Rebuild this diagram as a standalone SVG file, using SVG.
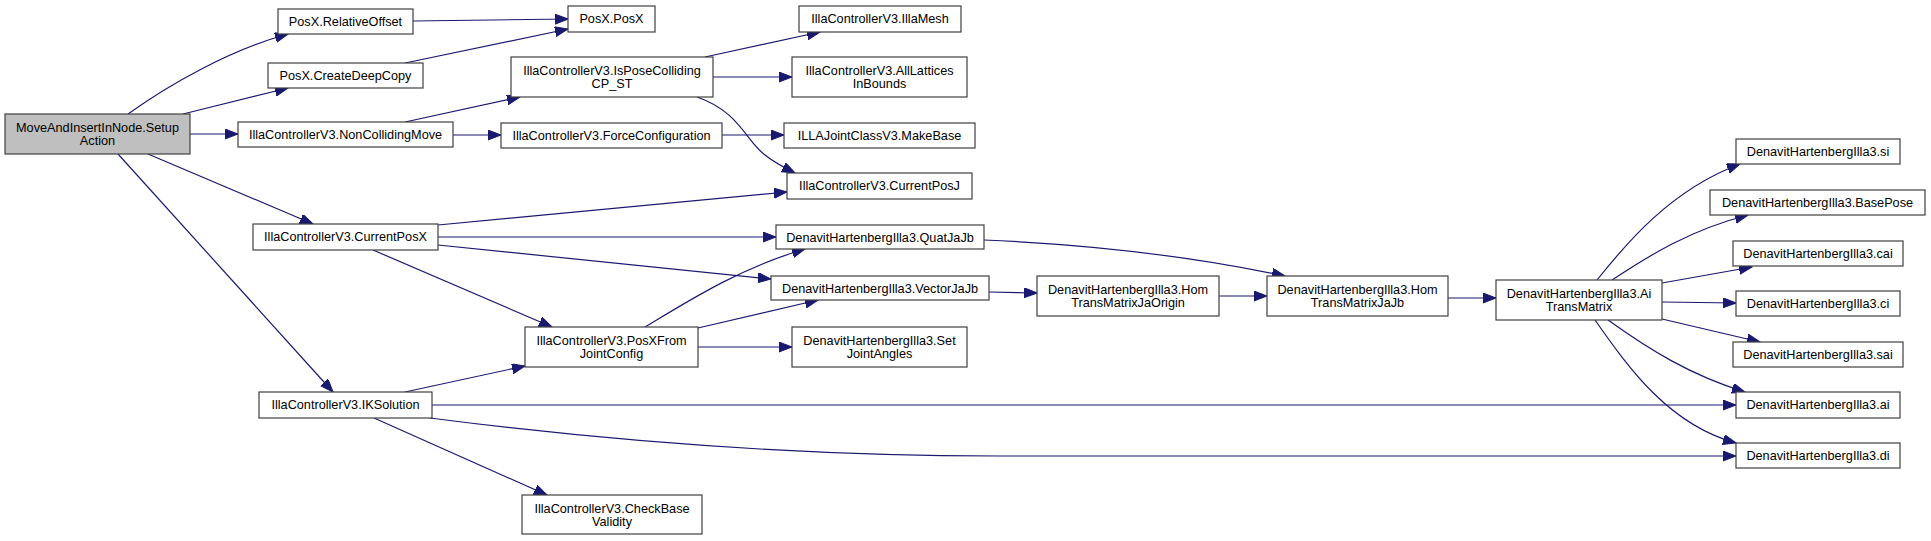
<svg xmlns="http://www.w3.org/2000/svg" width="1931" height="541" viewBox="0 0 1931 541">
<style>
.n rect{fill:#ffffff;stroke:#404040;stroke-width:1.2}
.n.root rect{fill:#bfbfbf}
text{font-family:"Liberation Sans",Arial,sans-serif;font-size:12.7px;fill:#000;text-anchor:middle}
.e path{fill:none;stroke:#191970;stroke-width:1.2;marker-end:url(#ah)}
</style>
<defs>
<marker id="ah" markerUnits="userSpaceOnUse" markerWidth="14" markerHeight="11" refX="13" refY="5" orient="auto">
<path d="M0,0 L13,5 L0,10 z" fill="#191970" stroke="#191970" stroke-width="1"/>
</marker>
</defs>
<rect width="1931" height="541" fill="#ffffff"/>
<g id="edges" class="e">
<path d="M128,114 C170,84 230,50 288,34"/>
<path d="M183,114 L288,88"/>
<path d="M190,134 L238,134"/>
<path d="M148,154 L313,224"/>
<path d="M118,154 L333,392"/>
<path d="M413,21 L568,19"/>
<path d="M405,63 L568,29"/>
<path d="M405,122 L520,97"/>
<path d="M453,135 L501,135"/>
<path d="M705,57 L820,32"/>
<path d="M713,77 L792,77"/>
<path d="M697,97 C740,112 745,140 765,155 C775,163 785,168 795,173"/>
<path d="M722,135 L784,135"/>
<path d="M438,225 L787,192"/>
<path d="M438,237 L776,237"/>
<path d="M438,245 L771,279"/>
<path d="M373,250 L552,327"/>
<path d="M645,327 C690,300 740,268 805,249"/>
<path d="M698,328 L818,300"/>
<path d="M698,347 L792,347"/>
<path d="M405,392 L525,366"/>
<path d="M432,405 L1736,405"/>
<path d="M430,418 C600,440 800,456 1000,456 L1736,456"/>
<path d="M374,418 L547,495"/>
<path d="M984,240 C1100,245 1200,258 1285,276"/>
<path d="M989,292 L1037,293"/>
<path d="M1219,296 L1267,296"/>
<path d="M1448,298 L1496,298"/>
<path d="M1597,280 C1625,245 1670,190 1740,164"/>
<path d="M1612,280 C1650,255 1690,230 1748,215"/>
<path d="M1662,283 L1752,267"/>
<path d="M1662,302 L1736,303"/>
<path d="M1662,319 L1760,342"/>
<path d="M1608,320 C1650,350 1690,375 1745,392"/>
<path d="M1595,320 C1630,370 1670,425 1736,443"/>
</g>
<g id="n_setup" class="n root"><rect x="5" y="114" width="185" height="40"/><text x="97.5" y="132">MoveAndInsertInNode.Setup</text><text x="97.5" y="145">Action</text></g>
<g id="n_reloff" class="n"><rect x="278" y="9" width="135" height="25"/><text x="345.5" y="26">PosX.RelativeOffset</text></g>
<g id="n_deepcopy" class="n"><rect x="268" y="63" width="155" height="25"/><text x="345.5" y="80">PosX.CreateDeepCopy</text></g>
<g id="n_noncoll" class="n"><rect x="238" y="122" width="215" height="25"/><text x="345.5" y="139">IllaControllerV3.NonCollidingMove</text></g>
<g id="n_curposx" class="n"><rect x="253" y="224" width="185" height="26"/><text x="345.5" y="241">IllaControllerV3.CurrentPosX</text></g>
<g id="n_iksol" class="n"><rect x="259" y="392" width="173" height="26"/><text x="345.5" y="409">IllaControllerV3.IKSolution</text></g>
<g id="n_posx" class="n"><rect x="568" y="6" width="87" height="26"/><text x="611.5" y="23">PosX.PosX</text></g>
<g id="n_ispose" class="n"><rect x="511" y="57" width="202" height="40"/><text x="612" y="75">IllaControllerV3.IsPoseColliding</text><text x="612" y="88">CP_ST</text></g>
<g id="n_force" class="n"><rect x="501" y="123" width="221" height="25"/><text x="611.5" y="140">IllaControllerV3.ForceConfiguration</text></g>
<g id="n_posxfrom" class="n"><rect x="525" y="327" width="173" height="40"/><text x="611.5" y="345">IllaControllerV3.PosXFrom</text><text x="611.5" y="358">JointConfig</text></g>
<g id="n_checkbase" class="n"><rect x="522" y="495" width="180" height="39"/><text x="612" y="513">IllaControllerV3.CheckBase</text><text x="612" y="526">Validity</text></g>
<g id="n_illamesh" class="n"><rect x="799" y="6" width="162" height="26"/><text x="880" y="23">IllaControllerV3.IllaMesh</text></g>
<g id="n_alllat" class="n"><rect x="792" y="57" width="175" height="40"/><text x="879.5" y="75">IllaControllerV3.AllLattices</text><text x="879.5" y="88">InBounds</text></g>
<g id="n_makebase" class="n"><rect x="784" y="123" width="191" height="25"/><text x="879.5" y="140">ILLAJointClassV3.MakeBase</text></g>
<g id="n_curposj" class="n"><rect x="787" y="173" width="185" height="26"/><text x="879.5" y="190">IllaControllerV3.CurrentPosJ</text></g>
<g id="n_quat" class="n"><rect x="776" y="225" width="208" height="24"/><text x="880" y="241.5">DenavitHartenbergIlla3.QuatJaJb</text></g>
<g id="n_vector" class="n"><rect x="771" y="276" width="218" height="24"/><text x="880" y="292.5">DenavitHartenbergIlla3.VectorJaJb</text></g>
<g id="n_setjoint" class="n"><rect x="792" y="327" width="175" height="40"/><text x="879.5" y="345">DenavitHartenbergIlla3.Set</text><text x="879.5" y="358">JointAngles</text></g>
<g id="n_homorigin" class="n"><rect x="1037" y="276" width="182" height="40"/><text x="1128" y="294">DenavitHartenbergIlla3.Hom</text><text x="1128" y="307">TransMatrixJaOrigin</text></g>
<g id="n_homjajb" class="n"><rect x="1267" y="276" width="181" height="40"/><text x="1357.5" y="294">DenavitHartenbergIlla3.Hom</text><text x="1357.5" y="307">TransMatrixJaJb</text></g>
<g id="n_aitrans" class="n"><rect x="1496" y="280" width="166" height="40"/><text x="1579" y="298">DenavitHartenbergIlla3.Ai</text><text x="1579" y="311">TransMatrix</text></g>
<g id="n_si" class="n"><rect x="1736" y="139" width="164" height="25"/><text x="1818" y="156">DenavitHartenbergIlla3.si</text></g>
<g id="n_basepose" class="n"><rect x="1710" y="190" width="215" height="25"/><text x="1817.5" y="207">DenavitHartenbergIlla3.BasePose</text></g>
<g id="n_cai" class="n"><rect x="1733" y="241" width="170" height="25"/><text x="1818" y="258">DenavitHartenbergIlla3.cai</text></g>
<g id="n_ci" class="n"><rect x="1736" y="291" width="164" height="25"/><text x="1818" y="308">DenavitHartenbergIlla3.ci</text></g>
<g id="n_sai" class="n"><rect x="1733" y="342" width="170" height="25"/><text x="1818" y="359">DenavitHartenbergIlla3.sai</text></g>
<g id="n_ai" class="n"><rect x="1736" y="392" width="164" height="26"/><text x="1818" y="409">DenavitHartenbergIlla3.ai</text></g>
<g id="n_di" class="n"><rect x="1736" y="443" width="164" height="25"/><text x="1818" y="460">DenavitHartenbergIlla3.di</text></g>
</svg>
